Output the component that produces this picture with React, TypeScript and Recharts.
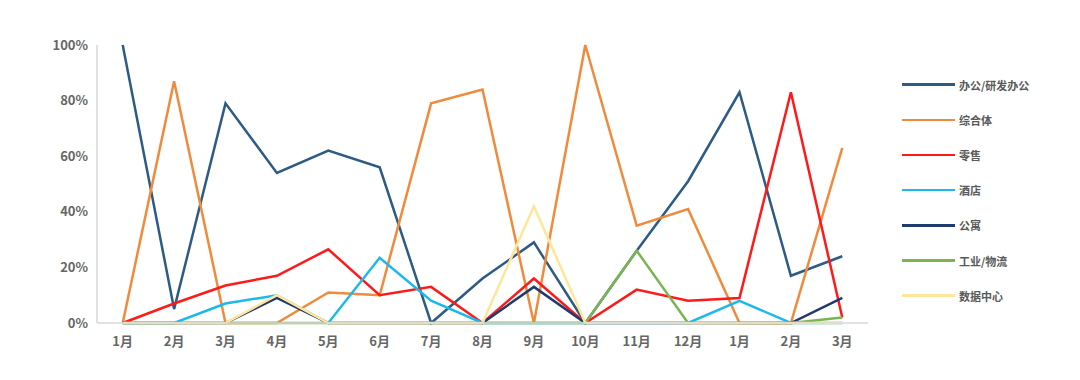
import React from 'react';
import { LineChart, Line, XAxis, YAxis } from 'recharts';

const months = ['1月', '2月', '3月', '4月', '5月', '6月', '7月', '8月', '9月', '10月', '11月', '12月', '1月', '2月', '3月'];
const office = [100, 5, 79, 54, 62, 56, 0, 16, 29, 0, 26, 51, 83, 17, 24];
const complex = [0, 87, 0, 0, 11, 10, 79, 84, 0, 100, 35, 41, 0, 0, 63];
const retail = [0, 7, 13.5, 17, 26.5, 10, 13, 0, 16, 0, 12, 8, 9, 83, 2];
const hotel = [0, 0, 7, 10, 0, 23.5, 8, 0, 0, 0, 0, 0, 8, 0, 0];
const apartment = [0, 0, 0, 9, 0, 0, 0, 0, 13, 0, 0, 0, 0, 0, 9];
const industrial = [0, 0, 0, 0, 0, 0, 0, 0, 0, 0, 26, 0, 0, 0, 2];
const datacenter = [0, 0, 0, 10, 0, 0, 0, 0, 42, 0, 0, 0, 0, 0, 0];
const yTicks = [0, 20, 40, 60, 80, 100];

const seriesNames = ['办公/研发办公', '综合体', '零售', '酒店', '公寓', '工业/物流', '数据中心'];
const seriesValues = [office, complex, retail, hotel, apartment, industrial, datacenter];
const colors = ['#2D5B85', '#F08A3C', '#FF1A1A', '#1DB9EE', '#1E3A70', '#7AB552', '#FFE699'];

const data = months.map((m, i) => {
  const row: Record<string, string | number> = { month: m, idx: i };
  seriesNames.forEach((n, k) => {
    row[n] = seriesValues[k][i];
  });
  return row;
});

const FONT = '"Noto Sans CJK SC", "Noto Sans", sans-serif';

function LegendBox() {
  return (
    <div style={{ position: 'absolute', left: 894, top: 59, display: 'flex', flexDirection: 'column', fontFamily: FONT }}>
      {seriesNames.map((n, k) => (
        <div key={n} style={{ display: 'flex', alignItems: 'center', height: 35.2 }}>
          <div style={{ width: 53, height: 2.5, background: colors[k], marginRight: 4 }} />
          <span style={{ fontSize: 11, fontWeight: 700, color: '#595959' }}>{n}</span>
        </div>
      ))}
    </div>
  );
}

export default function App() {
  return (
    <div style={{ position: 'relative', width: 1064, height: 364 }}>
      <LineChart
        width={1064}
        height={364}
        data={data}
        margin={{ top: 37, right: 204, left: 0, bottom: 19 }}
        style={{ fontFamily: FONT }}
      >
        <XAxis
          dataKey="idx"
          tickFormatter={(v: number) => months[v]}
          axisLine={{ stroke: '#d9d9d9', strokeWidth: 1.5 }}
          tickLine={false}
          tick={{ fill: '#666', fontSize: 13, fontWeight: 700 }}
          tickMargin={8}
          height={30}
          interval={0}
          padding={{ left: 25.7, right: 25.7 }}
        />
        <YAxis
          domain={[0, 100]}
          ticks={yTicks}
          tickFormatter={(v: number) => `${v}%`}
          axisLine={{ stroke: '#d9d9d9', strokeWidth: 1.5 }}
          tickLine={false}
          tick={{ fill: '#666', fontSize: 13, fontWeight: 700 }}
          width={89}
          tickMargin={3}
          interval={0}
        />
        {seriesNames.map((n, k) => (
          <Line
            key={n}
            type="linear"
            dataKey={n}
            stroke={colors[k]}
            strokeWidth={2.5}
            dot={false}
            activeDot={false}
            isAnimationActive={false}
          />
        ))}
      </LineChart>
      <LegendBox />
    </div>
  );
}
